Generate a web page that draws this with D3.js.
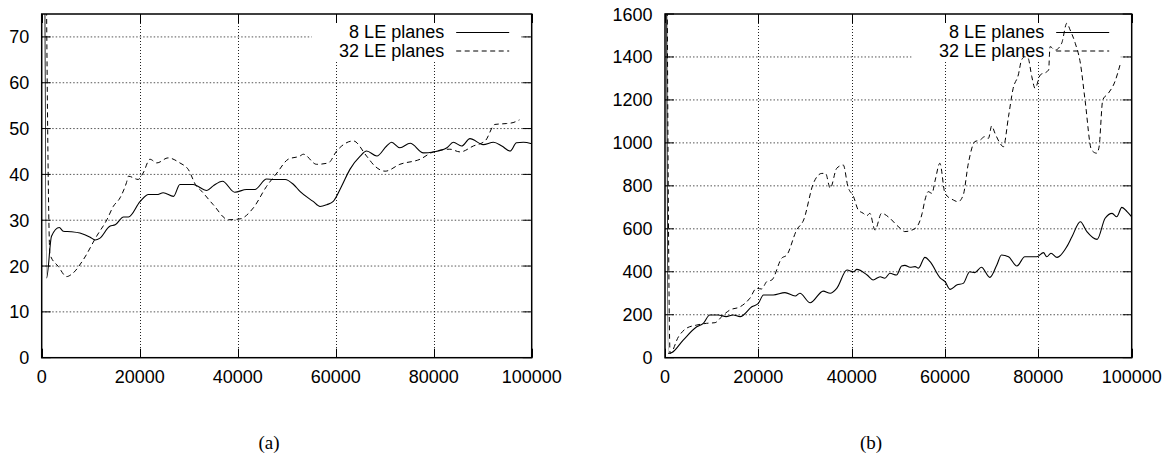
<!DOCTYPE html>
<html>
<head>
<meta charset="utf-8">
<script src="https://cdn.jsdelivr.net/npm/d3@7"></script>
<style>
  body { margin: 0; background: #fff; }
  svg { display: block; }
</style>
</head>
<body>
<div id="chart"></div>
<script>
// x values (steps) and y values
var xTicks = [0, 20000, 40000, 60000, 80000, 100000];
var yTicksA = [0, 10, 20, 30, 40, 50, 60, 70];
var yTicksB = [0, 200, 400, 600, 800, 1000, 1200, 1400, 1600];
var seriesNames = ["8 LE planes", "32 LE planes"];
var captions = ["(a)", "(b)"];

// panel (a), 8 LE planes
var a8Steps = [300, 1000, 2000, 3600, 4400, 6000, 7800, 9900, 10900, 11900, 13900, 15000, 16700, 17700, 20100, 21800, 23500, 24800, 26900, 28200, 30900, 33700, 35000, 36900, 39400, 41800, 43500, 45900, 47300, 49700, 51400, 52700, 55400, 56800, 58200, 59500, 61200, 62900, 65000, 66300, 68400, 70400, 71400, 73100, 75200, 77900, 79900, 82700, 84000, 85700, 87400, 90100, 92200, 93900, 95600, 96900, 98300, 100000];
var a8Values = [200, 17.4, 26.5, 28.4, 27.6, 27.5, 27.2, 26.3, 25.7, 26.1, 28.7, 29.0, 30.7, 30.7, 34.1, 35.6, 35.6, 36.0, 35.2, 37.8, 37.8, 36.5, 37.5, 38.5, 36.1, 36.7, 36.7, 39.0, 38.9, 38.9, 37.8, 36.3, 34.1, 33.0, 33.4, 34.1, 37.4, 41.1, 44.0, 45.1, 44.0, 46.2, 47.0, 45.8, 46.8, 44.7, 44.9, 45.8, 47.0, 46.2, 47.8, 46.5, 47.0, 46.2, 45.1, 46.9, 47.0, 46.7];

// panel (a), 32 LE planes
var a32Steps = [500, 1700, 3400, 5100, 6100, 8500, 11200, 13300, 14600, 16000, 17300, 17700, 19700, 20700, 22100, 23500, 25800, 28200, 29900, 31600, 32300, 35000, 38100, 40500, 43200, 45900, 48000, 50300, 52700, 53400, 56100, 58500, 60200, 63600, 66300, 68000, 70100, 73100, 77200, 79900, 83300, 85400, 88100, 90500, 92500, 94900, 96200, 97500];
var a32Values = [150, 22.5, 19.9, 17.7, 18.2, 21.4, 26.5, 30.1, 33.0, 34.9, 38.2, 39.6, 38.9, 40.3, 43.3, 42.5, 43.6, 42.5, 41.1, 37.4, 36.7, 33.4, 30.1, 30.3, 32.7, 37.4, 40.3, 43.3, 44.0, 44.4, 42.2, 42.5, 45.1, 47.3, 44.0, 41.8, 40.7, 42.2, 43.3, 44.9, 45.5, 44.9, 46.2, 47.3, 50.9, 51.1, 51.3, 51.9];

// panel (b), 8 LE planes
var b8Steps = [200, 700, 1400, 3900, 6800, 8200, 9600, 11400, 13100, 14600, 16100, 18600, 20000, 21100, 23200, 25700, 27900, 28900, 31100, 33900, 35400, 36800, 39000, 40400, 41100, 43300, 44600, 46100, 47100, 48200, 49600, 50700, 51400, 52500, 53600, 54300, 55700, 56800, 59000, 60000, 61100, 62500, 63900, 65300, 66400, 67800, 69600, 71100, 72100, 73600, 75400, 77100, 79700, 81100, 81800, 82700, 84000, 86100, 87200, 89000, 90400, 92600, 94300, 95800, 96800, 97900, 99000, 100000];
var b8Values = [3000, 20, 23, 82, 144, 160, 199, 199, 191, 199, 191, 237, 253, 292, 292, 303, 287, 300, 256, 310, 300, 323, 408, 400, 411, 385, 362, 377, 370, 393, 385, 427, 430, 421, 424, 417, 467, 447, 370, 354, 318, 338, 346, 400, 396, 421, 374, 432, 478, 470, 427, 470, 470, 489, 470, 486, 467, 517, 563, 633, 587, 551, 649, 672, 656, 700, 680, 656];

// panel (b), 32 LE planes
var b32Steps = [200, 1100, 2900, 4600, 6800, 8900, 10700, 12500, 13900, 16100, 18200, 19600, 20700, 21800, 22900, 25000, 26100, 28200, 29700, 31800, 33600, 34400, 35400, 36800, 38200, 39200, 40400, 41400, 42500, 43200, 43900, 45000, 46400, 48200, 49600, 50400, 51400, 52900, 54000, 55100, 55700, 56400, 57200, 57900, 58900, 60000, 61800, 62800, 63900, 65000, 66400, 67500, 68500, 69300, 70000, 70700, 71800, 72500, 73600, 74600, 75700, 76400, 77100, 77800, 78600, 79300, 80400, 81800, 82200, 82500, 83600, 85000, 86100, 86800, 87900, 89000, 90000, 91400, 92500, 93000, 93800, 95000, 96400, 97500];
var b32Values = [3000, 20, 98, 137, 152, 160, 163, 199, 222, 237, 277, 323, 320, 354, 362, 463, 478, 594, 641, 812, 858, 858, 789, 882, 897, 796, 750, 688, 672, 660, 672, 594, 672, 649, 618, 602, 587, 594, 610, 672, 734, 773, 765, 827, 905, 765, 734, 726, 757, 905, 1006, 1013, 1029, 1021, 1079, 1045, 998, 982, 1122, 1254, 1316, 1386, 1401, 1394, 1308, 1254, 1316, 1331, 1340, 1448, 1432, 1464, 1557, 1526, 1464, 1371, 1200, 967, 952, 980, 1200, 1231, 1285, 1363];

var width = 1170;
var height = 460;
var font = "'Liberation Sans', Arial, Helvetica, sans-serif";

var svg = d3.select("#chart")
  .append("svg")
  .attr("width", width)
  .attr("height", height);

function zip(xs, ys) {
  return xs.map(function(x, i) { return [x, ys[i]]; });
}

function drawPanel(cfg) {
  var x = d3.scaleLinear().domain([0, 100000]).range([cfg.left, cfg.right]);
  var y = d3.scaleLinear().domain([0, cfg.ymax]).range([cfg.bottom, cfg.top]);
  var g = svg.append("g");

  // grid
  g.selectAll(".hgrid")
    .data(cfg.yTicks.filter(function(d) { return d > 0 && d < cfg.ymax; }))
    .enter().append("line")
    .attr("x1", cfg.left).attr("x2", cfg.right)
    .attr("y1", function(d) { return y(d); }).attr("y2", function(d) { return y(d); })
    .attr("stroke", "#555").attr("stroke-width", 1)
    .attr("stroke-dasharray", "1.5,2");
  g.selectAll(".vgrid")
    .data(xTicks.slice(1, -1))
    .enter().append("line")
    .attr("x1", function(d) { return Math.round(x(d)) + 0.5; }).attr("x2", function(d) { return Math.round(x(d)) + 0.5; })
    .attr("y1", cfg.top).attr("y2", cfg.bottom)
    .attr("stroke", "#222").attr("stroke-width", 1)
    .attr("stroke-dasharray", "1,2");

  // key area hides the grid behind it
  g.append("rect")
    .attr("x", cfg.right - 220).attr("y", 23)
    .attr("width", 209).attr("height", 37)
    .attr("fill", "#fff");

  // ticks on all four sides, pointing inwards
  var tl = 9;
  xTicks.forEach(function(d) {
    var xx = Math.round(x(d)) + 0.5;
    g.append("line").attr("x1", xx).attr("x2", xx).attr("y1", cfg.bottom).attr("y2", cfg.bottom - tl).attr("stroke", "#000");
    g.append("line").attr("x1", xx).attr("x2", xx).attr("y1", cfg.top).attr("y2", cfg.top + tl).attr("stroke", "#000");
  });
  cfg.yTicks.forEach(function(d) {
    g.append("line").attr("x1", cfg.left).attr("x2", cfg.left + tl).attr("y1", y(d)).attr("y2", y(d)).attr("stroke", "#000");
    g.append("line").attr("x1", cfg.right).attr("x2", cfg.right - tl).attr("y1", y(d)).attr("y2", y(d)).attr("stroke", "#000");
  });

  // tick labels
  g.selectAll(".xl")
    .data(xTicks)
    .enter().append("text")
    .attr("x", function(d) { return x(d); })
    .attr("y", cfg.bottom + 25.5)
    .attr("text-anchor", "middle")
    .style("font-family", font).style("font-size", "18px")
    .text(function(d) { return d; });
  g.selectAll(".yl")
    .data(cfg.yTicks)
    .enter().append("text")
    .attr("x", cfg.left - 12.5)
    .attr("y", function(d) { return y(d) + 6.5; })
    .attr("text-anchor", "end")
    .style("font-family", font).style("font-size", "18px")
    .text(function(d) { return d; });

  // data
  var clipId = "clip" + cfg.id;
  svg.append("clipPath").attr("id", clipId)
    .append("rect")
    .attr("x", cfg.left).attr("y", cfg.top)
    .attr("width", cfg.right - cfg.left).attr("height", cfg.bottom - cfg.top);

  var line = d3.line()
    .x(function(d) { return x(d[0]); })
    .y(function(d) { return y(d[1]); })
    .curve(d3.curveMonotoneX);

  g.append("path")
    .datum(cfg.dashed)
    .attr("clip-path", "url(#" + clipId + ")")
    .attr("d", line)
    .attr("fill", "none").attr("stroke", "#000").attr("stroke-width", 1)
    .attr("stroke-dasharray", "5,3.5");
  g.append("path")
    .datum(cfg.solid)
    .attr("clip-path", "url(#" + clipId + ")")
    .attr("d", line)
    .attr("fill", "none").attr("stroke", "#000").attr("stroke-width", 1.1);

  // frame
  g.append("rect")
    .attr("x", cfg.left).attr("y", cfg.top)
    .attr("width", cfg.right - cfg.left).attr("height", cfg.bottom - cfg.top)
    .attr("fill", "none").attr("stroke", "#000").attr("stroke-width", 1.5);

  // key
  var rows = [{ name: seriesNames[0], dash: null, ty: 38.3, ly: 32.5 },
              { name: seriesNames[1], dash: "5,3.5", ty: 56.8, ly: 51 }];
  rows.forEach(function(r) {
    g.append("text")
      .attr("x", cfg.right - 87.5).attr("y", r.ty)
      .attr("text-anchor", "end")
      .style("font-family", font).style("font-size", "18px")
      .text(r.name);
    g.append("line")
      .attr("x1", cfg.right - 75.5).attr("x2", cfg.right - 22.5)
      .attr("y1", r.ly).attr("y2", r.ly)
      .attr("stroke", "#000").attr("stroke-width", 1)
      .attr("stroke-dasharray", r.dash);
  });

  // caption
  svg.append("text")
    .attr("x", cfg.captionX).attr("y", 449)
    .attr("text-anchor", "middle")
    .style("font-family", "'Liberation Serif', 'Times New Roman', serif")
    .style("font-size", "19px")
    .text(cfg.caption);
}

drawPanel({
  id: "a", left: 41.7, right: 531.7, top: 14, bottom: 357.7, ymax: 75,
  yTicks: yTicksA, solid: zip(a8Steps, a8Values), dashed: zip(a32Steps, a32Values),
  caption: captions[0], captionX: 269
});
drawPanel({
  id: "b", left: 665, right: 1131.7, top: 14, bottom: 357.7, ymax: 1600,
  yTicks: yTicksB, solid: zip(b8Steps, b8Values), dashed: zip(b32Steps, b32Values),
  caption: captions[1], captionX: 871
});
</script>
</body>
</html>
